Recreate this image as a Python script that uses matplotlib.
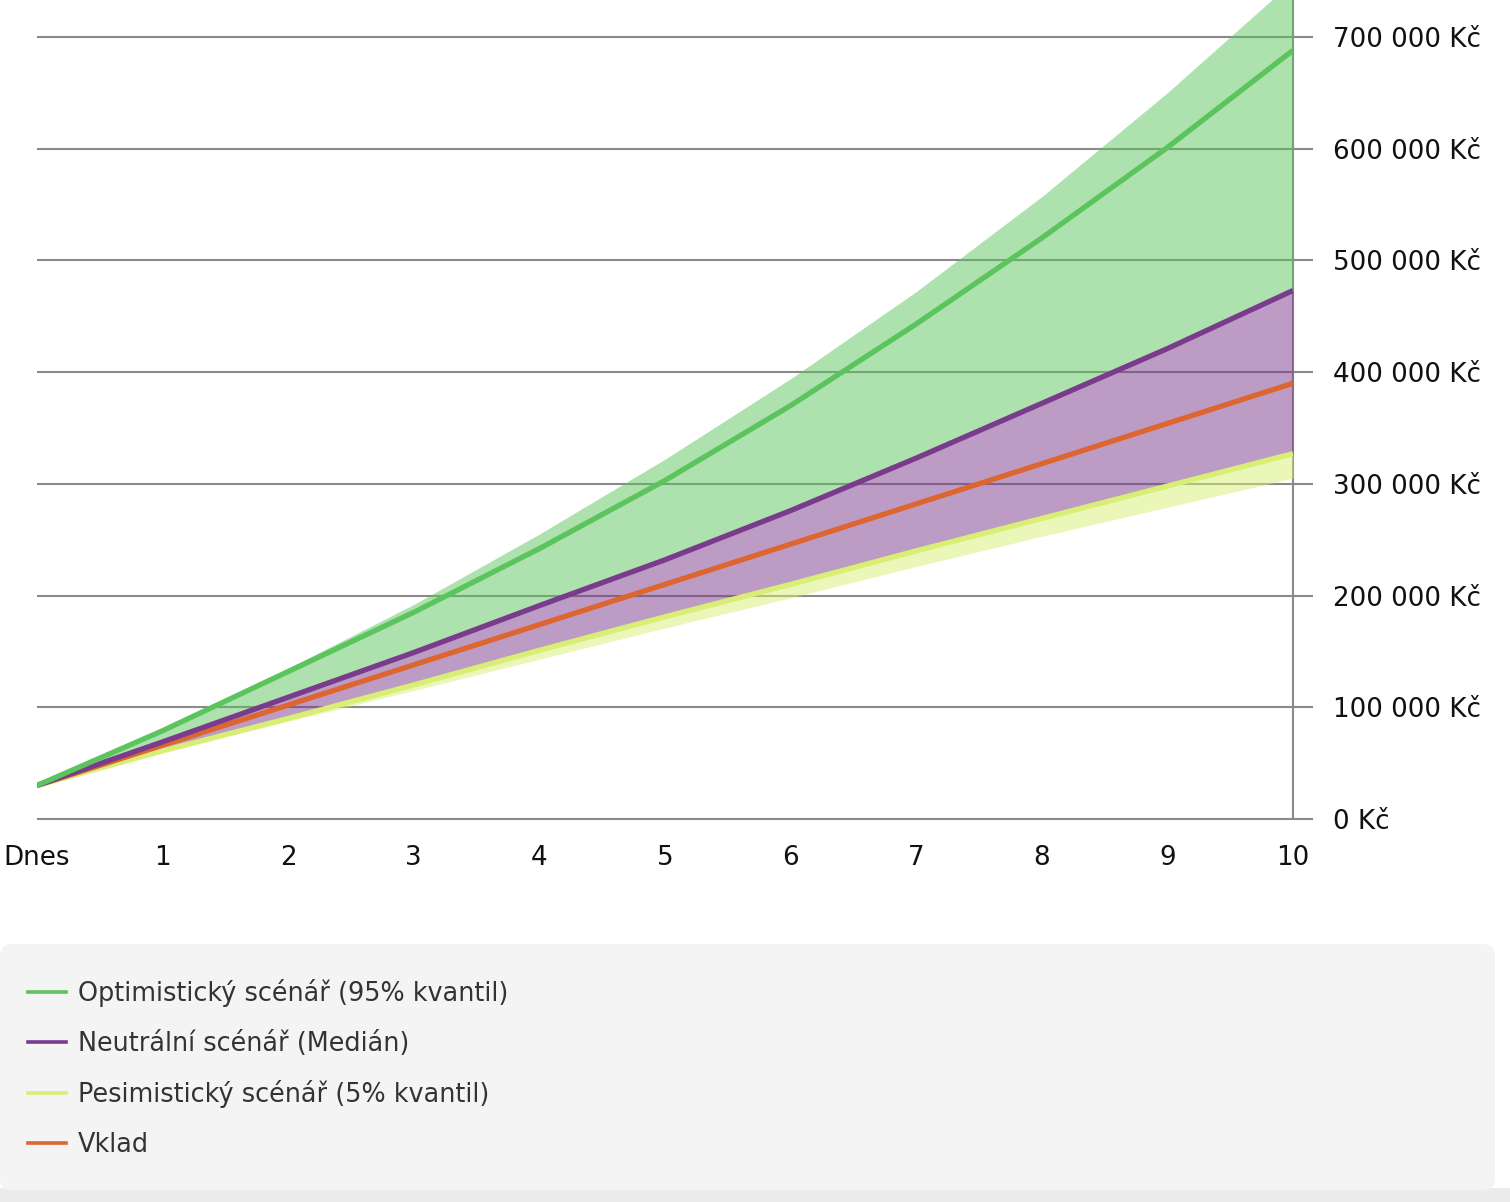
"""Investment projection chart: scenario bands (95% / median / 5% quantile) vs. deposits over 10 years."""

import matplotlib

matplotlib.use("Agg")
import matplotlib.pyplot as plt
from matplotlib.patches import FancyBboxPatch, Rectangle
from matplotlib.transforms import IdentityTransform

# --- data (Kč) ---
years = [0, 1, 2, 3, 4, 5, 6, 7, 8, 9, 10]
year_labels = ["Dnes", "1", "2", "3", "4", "5", "6", "7", "8", "9", "10"]

upper_band = [30000, 81000, 135000, 192000, 255000, 322000, 394000, 472000, 557000, 650000, 750000]
optimistic = [30000, 79000, 132000, 185000, 242000, 303000, 370000, 443000, 520000, 601000, 688000]
neutral = [30000, 69000, 109000, 149000, 191000, 232000, 276000, 323000, 372000, 421000, 473000]
pessimistic = [30000, 61000, 90000, 120000, 151000, 181000, 210000, 240000, 269000, 298000, 327000]
lower_band = [30000, 59500, 87500, 115000, 143000, 171000, 198000, 226000, 253000, 279000, 305000]
deposit = [30000, 66000, 102000, 138000, 174000, 210000, 246000, 282000, 318000, 354000, 390000]

y_ticks = [0, 100000, 200000, 300000, 400000, 500000, 600000, 700000]

labels = [
    "Optimistický scénář (95% kvantil)",
    "Neutrální scénář (Medián)",
    "Pesimistický scénář (5% kvantil)",
    "Vklad",
]

GREEN, PURPLE, YELLOW, ORANGE = "#5cc45c", "#7b3b8c", "#d9ee74", "#dd6630"
GRID = "#8a8a8a"

plt.rcParams["font.family"] = ["DejaVu Sans"]

W, H = 1510, 1202
fig = plt.figure(figsize=(W / 100, H / 100), dpi=100)
fig.patch.set_facecolor("white")
ax = fig.add_axes([37 / W, (H - 819) / H, (1293 - 37) / W, 819 / H])
ax.set_facecolor("none")

ax.set_xlim(0, 10)
ax.set_ylim(0, 733000)

# grid lines run a little past the right axis
ax.hlines(y_ticks, 0, 10 + 20 / 125.6, colors=GRID, lw=1.5, clip_on=False, zorder=1)

ax.fill_between(years, neutral, upper_band, color=GREEN, alpha=0.5, lw=0, zorder=2)
ax.fill_between(years, pessimistic, neutral, color=PURPLE, alpha=0.5, lw=0, zorder=2)
ax.fill_between(years, lower_band, pessimistic, color=YELLOW, alpha=0.5, lw=0, zorder=2)

lw = 3.8
ax.plot(years, pessimistic, color=YELLOW, lw=lw, zorder=3, solid_capstyle="butt")
ax.plot(years, deposit, color=ORANGE, lw=lw, zorder=4, solid_capstyle="butt")
ax.plot(years, neutral, color=PURPLE, lw=lw, zorder=5, solid_capstyle="butt")
ax.plot(years, optimistic, color=GREEN, lw=lw, zorder=6, solid_capstyle="butt")

for s in ("left", "top", "bottom"):
    ax.spines[s].set_visible(False)
ax.spines["right"].set_color(GRID)
ax.spines["right"].set_linewidth(1.5)
ax.spines["right"].set_zorder(1)

ax.set_xticks(years)
ax.set_xticklabels(year_labels)
ax.set_yticks(y_ticks)
ax.set_yticklabels([f"{v:,}".replace(",", " ") + " Kč" for v in y_ticks])
ax.yaxis.tick_right()
ax.tick_params(axis="y", length=0, pad=28.5, labelsize=18.8, labelcolor="#111111")
ax.tick_params(axis="x", length=0, pad=18.5, labelsize=18.8, labelcolor="#111111")

# legend panel
fig.patches.append(
    Rectangle((0, 0), W, 14, transform=IdentityTransform(), facecolor="#ececec", lw=0, zorder=0)
)
fig.patches.append(
    FancyBboxPatch(
        (0, H - 1190), 1495, 1190 - 944,
        boxstyle="round,pad=0,rounding_size=12",
        transform=IdentityTransform(), facecolor="#f4f4f4", edgecolor="none", zorder=0,
    )
)

leg_h = []
for c in (GREEN, PURPLE, YELLOW, ORANGE):
    leg_h.append(plt.Line2D([], [], color=c, lw=2.6))
leg = fig.legend(
    leg_h, labels, loc="upper left", bbox_to_anchor=(28 / W, (H - 979) / H),
    frameon=False, fontsize=18.4, labelspacing=0.92, handlelength=1.48, handletextpad=0.47,
    borderpad=0, borderaxespad=0,
)
for t in leg.get_texts():
    t.set_color("#333333")

fig.savefig("out.png", dpi=100)
